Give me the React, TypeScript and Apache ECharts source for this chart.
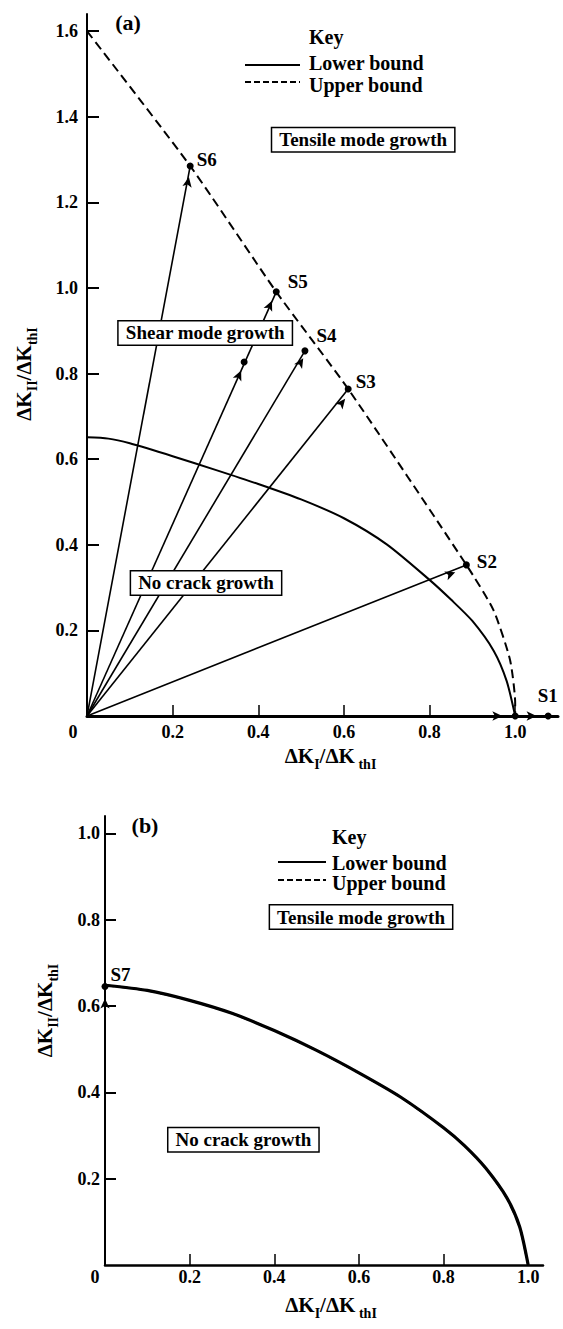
import React, { useEffect, useRef } from "react";
import * as echarts from "echarts";

const FONT = '"Liberation Serif", "Times New Roman", serif';

// ---------- Panel (a) ----------
const xTicksA = [0.2, 0.4, 0.6, 0.8, 1.0];
const xLabelsA = [0, 0.2, 0.4, 0.6, 0.8, 1.0];
const yTicksA = [0.2, 0.4, 0.6, 0.8, 1.0, 1.2, 1.4, 1.6];
const lowerBoundA = [
  [0, 0.651], [0.05, 0.648], [0.1, 0.637], [0.2, 0.607], [0.3, 0.575], [0.4, 0.542],
  [0.5, 0.506], [0.6, 0.462], [0.7, 0.401], [0.8, 0.318], [0.85, 0.272], [0.9, 0.222],
  [0.95, 0.152], [0.98, 0.082], [1.0, 0],
];
const upperBoundA = [
  [0, 1.6], [0.241, 1.285], [0.442, 0.991], [0.61, 0.764], [0.886, 0.353],
  [0.949, 0.248], [0.988, 0.131], [1.0, 0.03], [1.0, 0],
];
const pathNamesA = ["S1", "S2", "S3", "S4", "S5", "S6"];
const pathEndsA = [
  [1.077, 0], [0.886, 0.353], [0.61, 0.764], [0.509, 0.853], [0.442, 0.991], [0.241, 1.285],
];
const extraDotsA = [[1.0, 0], [0.367, 0.827]];
const arrowsA = [
  [0.97, 0], [1.05, 0], [0.86, 0.336], [0.603, 0.741], [0.505, 0.836],
  [0.36, 0.807], [0.432, 0.97], [0.238, 1.259],
];
const regionNamesA = ["Tensile mode growth", "Shear mode growth", "No crack growth"];
const regionPosA = [[0.645, 1.346], [0.276, 0.895], [0.278, 0.311]];

// ---------- Panel (b) ----------
const xTicksB = [0.2, 0.4, 0.6, 0.8];
const xLabelsB = [0, 0.2, 0.4, 0.6, 0.8, 1.0];
const yTicksB = [0.2, 0.4, 0.6, 0.8, 1.0];
const lowerBoundB = [
  [0, 0.648], [0.1, 0.636], [0.2, 0.613], [0.3, 0.583], [0.4, 0.543], [0.5, 0.497],
  [0.6, 0.445], [0.7, 0.388], [0.8, 0.318], [0.85, 0.276], [0.9, 0.224], [0.95, 0.155],
  [0.98, 0.088], [1.0, 0],
];
const upperBoundB = [
  [0, 0.648], [0.1, 0.636], [0.2, 0.613], [0.3, 0.583], [0.4, 0.543], [0.5, 0.497],
  [0.6, 0.445], [0.7, 0.388], [0.8, 0.318], [0.85, 0.276], [0.9, 0.224], [0.95, 0.155],
  [0.98, 0.088], [1.0, 0],
];
const pathNamesB = ["S7"];
const pathEndsB = [[0, 0.645]];
const arrowsB = [[0, 0.617]];
const regionNamesB = ["Tensile mode growth", "No crack growth"];
const regionPosB = [[0.605, 0.806], [0.327, 0.29]];

// label offsets (styling only)
const labelOffsetsA = [[-17, -21], [4, -3], [1, -7], [5, -15], [5, -10], [0, -6]];
const labelOffsetsB = [[-1, -12]];

const BLACK = "#000";

const tickLabel = (pad: number) => ({
  color: BLACK,
  fontFamily: FONT,
  fontWeight: "bold" as const,
  fontSize: 18,
  rich: {
    z: { fontFamily: FONT, fontWeight: "bold", fontSize: 18, color: BLACK, padding: [0, pad, 0, 0] },
  },
});

const nameStyle = (padding: number[]) => ({
  color: BLACK,
  fontFamily: FONT,
  fontWeight: "bold" as const,
  fontSize: 21,
  padding,
  rich: {
    m: { fontFamily: FONT, fontWeight: "bold", fontSize: 21, color: BLACK, lineHeight: 22, verticalAlign: "top" },
    s: { fontFamily: FONT, fontWeight: "bold", fontSize: 14, color: BLACK, lineHeight: 26, verticalAlign: "bottom" },
  },
});

const X_NAME = "{m|ΔK}{s|I}{m|/ΔK}{s| thI}";
const Y_NAME = "{m|ΔK}{s|II}{m|/ΔK}{s|thI}";

const arrowRot = (p: number[]) => (Math.atan2(p[1], p[0]) * 180) / Math.PI - 90;

function panelSeries(
  idx: number,
  lower: number[][],
  upper: number[][],
  names: string[],
  ends: number[][],
  extras: number[][],
  arrows: number[][],
  offsets: number[][],
  regionNames: string[],
  regionPos: number[][],
  boundWidth: number,
  upperWidth: number
) {
  const s: any[] = [];
  s.push({
    type: "line",
    xAxisIndex: idx,
    yAxisIndex: idx,
    data: lower,
    smooth: 0.25,
    showSymbol: false,
    lineStyle: { color: BLACK, width: boundWidth },
    z: 3,
  });
  s.push({
    type: "line",
    xAxisIndex: idx,
    yAxisIndex: idx,
    data: upper,
    smooth: 0.2,
    showSymbol: false,
    lineStyle: { color: BLACK, width: upperWidth, type: [9, 5] },
    z: 3,
  });
  ends.forEach((e) => {
    s.push({
      type: "line",
      xAxisIndex: idx,
      yAxisIndex: idx,
      data: [[0, 0], e],
      showSymbol: false,
      lineStyle: { color: BLACK, width: 1.6 },
      z: 2,
    });
  });
  s.push({
    type: "scatter",
    xAxisIndex: idx,
    yAxisIndex: idx,
    symbol: "arrow",
    symbolSize: [7, 10],
    itemStyle: { color: BLACK, opacity: 1 },
    data: arrows.map((a) => ({ value: a, symbolRotate: arrowRot(a) })),
    z: 6,
  });
  s.push({
    type: "scatter",
    xAxisIndex: idx,
    yAxisIndex: idx,
    symbol: "circle",
    symbolSize: 7,
    itemStyle: { color: BLACK, opacity: 1 },
    data: [
      ...ends.map((e, i) => ({
        value: e,
        label: {
          show: true,
          formatter: names[i],
          position: "right",
          distance: 3,
          offset: offsets[i],
          color: BLACK,
          opacity: 1,
          fontFamily: FONT,
          fontWeight: "bold",
          fontSize: 19,
        },
      })),
      ...extras.map((e) => ({ value: e })),
    ],
    z: 7,
  });
  s.push({
    type: "scatter",
    xAxisIndex: idx,
    yAxisIndex: idx,
    symbol: "circle",
    symbolSize: 0,
    itemStyle: { color: BLACK, opacity: 1 },
    data: regionPos.map((p, i) => ({
      value: p,
      label: {
        show: true,
        formatter: regionNames[i],
        position: "inside",
        color: BLACK,
        opacity: 1,
        textBorderWidth: 0,
        fontFamily: FONT,
        fontWeight: "bold",
        fontSize: 19,
        backgroundColor: "#fff",
        borderColor: BLACK,
        borderWidth: 1.5,
        padding: [3, 7, 1, 7],
      },
    })),
    z: 10,
  });
  return s;
}

function keyGraphics(textX: number, yKey: number, yLow: number, yUp: number, lineX1: number, lineX2: number, lineYLow: number, lineYUp: number) {
  const txt = (t: string, y: number, size: number) => ({
    type: "text",
    x: textX,
    y,
    style: {
      text: t,
      fill: BLACK,
      fontFamily: FONT,
      fontWeight: "bold",
      fontSize: size,
      align: "left",
      verticalAlign: "middle",
      textAlign: "left",
      textVerticalAlign: "middle",
    },
  });
  return [
    txt("Key", yKey, 20),
    txt("Lower bound", yLow, 20),
    txt("Upper bound", yUp, 20),
    { type: "line", shape: { x1: lineX1, y1: lineYLow, x2: lineX2, y2: lineYLow }, style: { stroke: BLACK, lineWidth: 2 } },
    { type: "line", shape: { x1: lineX1, y1: lineYUp, x2: lineX2, y2: lineYUp }, style: { stroke: BLACK, lineWidth: 2, lineDash: [6, 3] } },
  ];
}

function panelLabel(t: string, x: number, y: number) {
  return {
    type: "text",
    x,
    y,
    style: {
      text: t,
      fill: BLACK,
      fontFamily: FONT,
      fontWeight: "bold",
      fontSize: 22,
      align: "center",
      verticalAlign: "middle",
      textAlign: "center",
      textVerticalAlign: "middle",
    },
  };
}

const option: any = {
  animation: false,
  backgroundColor: "#fff",
  textStyle: { fontFamily: FONT },
  grid: [
    { left: 87, right: 5, top: 14, bottom: 613 },
    { left: 105, right: 20, top: 816, bottom: 64 },
  ],
  xAxis: [
    {
      gridIndex: 0,
      type: "value",
      min: 0,
      max: 1.1,
      axisLine: { show: true, onZero: false, lineStyle: { color: BLACK, width: 3 } },
      axisTick: { show: true, inside: true, length: 11, customValues: xTicksA, lineStyle: { color: BLACK, width: 1.5 } },
      axisLabel: {
        ...tickLabel(28),
        customValues: xLabelsA,
        margin: 7,
        formatter: (v: number) => (v === 0 ? "{z|0}" : v.toFixed(1)),
      },
      splitLine: { show: false },
      name: X_NAME,
      nameLocation: "middle",
      nameGap: 25,
      nameTextStyle: nameStyle([0, 0, 0, 16]),
    },
    {
      gridIndex: 1,
      type: "value",
      min: 0,
      max: 1.035,
      axisLine: { show: true, onZero: false, lineStyle: { color: BLACK, width: 2.5 } },
      axisTick: { show: true, inside: true, length: 11, customValues: xTicksB, lineStyle: { color: BLACK, width: 1.5 } },
      axisLabel: {
        ...tickLabel(20),
        customValues: xLabelsB,
        margin: 3,
        formatter: (v: number) => (v === 0 ? "{z|0}" : v.toFixed(1)),
      },
      splitLine: { show: false },
      name: X_NAME,
      nameLocation: "middle",
      nameGap: 29,
      nameTextStyle: nameStyle([0, 0, 0, 14]),
    },
  ],
  yAxis: [
    {
      gridIndex: 0,
      type: "value",
      min: 0,
      max: 1.64,
      axisLine: { show: true, onZero: false, lineStyle: { color: BLACK, width: 2 } },
      axisTick: { show: true, inside: true, length: 12, customValues: yTicksA, lineStyle: { color: BLACK, width: 2 } },
      axisLabel: { ...tickLabel(0), customValues: yTicksA, margin: 9, formatter: (v: number) => v.toFixed(1) },
      splitLine: { show: false },
      name: Y_NAME,
      nameLocation: "middle",
      nameGap: 48,
      nameTextStyle: nameStyle([0, 18, 0, 0]),
    },
    {
      gridIndex: 1,
      type: "value",
      min: 0,
      max: 1.04,
      axisLine: { show: true, onZero: false, lineStyle: { color: BLACK, width: 2 } },
      axisTick: { show: true, inside: true, length: 11, customValues: yTicksB, lineStyle: { color: BLACK, width: 2 } },
      axisLabel: { ...tickLabel(0), customValues: yTicksB, margin: 5, formatter: (v: number) => v.toFixed(1) },
      splitLine: { show: false },
      name: Y_NAME,
      nameLocation: "middle",
      nameGap: 45,
      nameTextStyle: nameStyle([0, 0, 0, 60]),
    },
  ],
  series: [
    ...panelSeries(0, lowerBoundA, upperBoundA, pathNamesA, pathEndsA, extraDotsA, arrowsA, labelOffsetsA, regionNamesA, regionPosA, 2, 2),
    ...panelSeries(1, lowerBoundB, upperBoundB, pathNamesB, pathEndsB, [], arrowsB, labelOffsetsB, regionNamesB, regionPosB, 3.2, 2),
  ],
  graphic: [
    panelLabel("(a)", 128, 22),
    panelLabel("(b)", 145, 825),
    ...keyGraphics(309, 37, 63, 85, 245, 300, 65, 82),
    ...keyGraphics(332, 837, 863, 883, 278, 326, 862, 880),
  ],
};

export default function App() {
  const ref = useRef<HTMLDivElement>(null);
  useEffect(() => {
    if (!ref.current) return;
    const chart = echarts.init(ref.current, null, { renderer: "svg" });
    chart.setOption(option);
    return () => chart.dispose();
  }, []);
  return (
    <div
      ref={ref}
      style={{ position: "absolute", left: 0, top: 0, width: 563, height: 1329, background: "#fff" }}
    />
  );
}
